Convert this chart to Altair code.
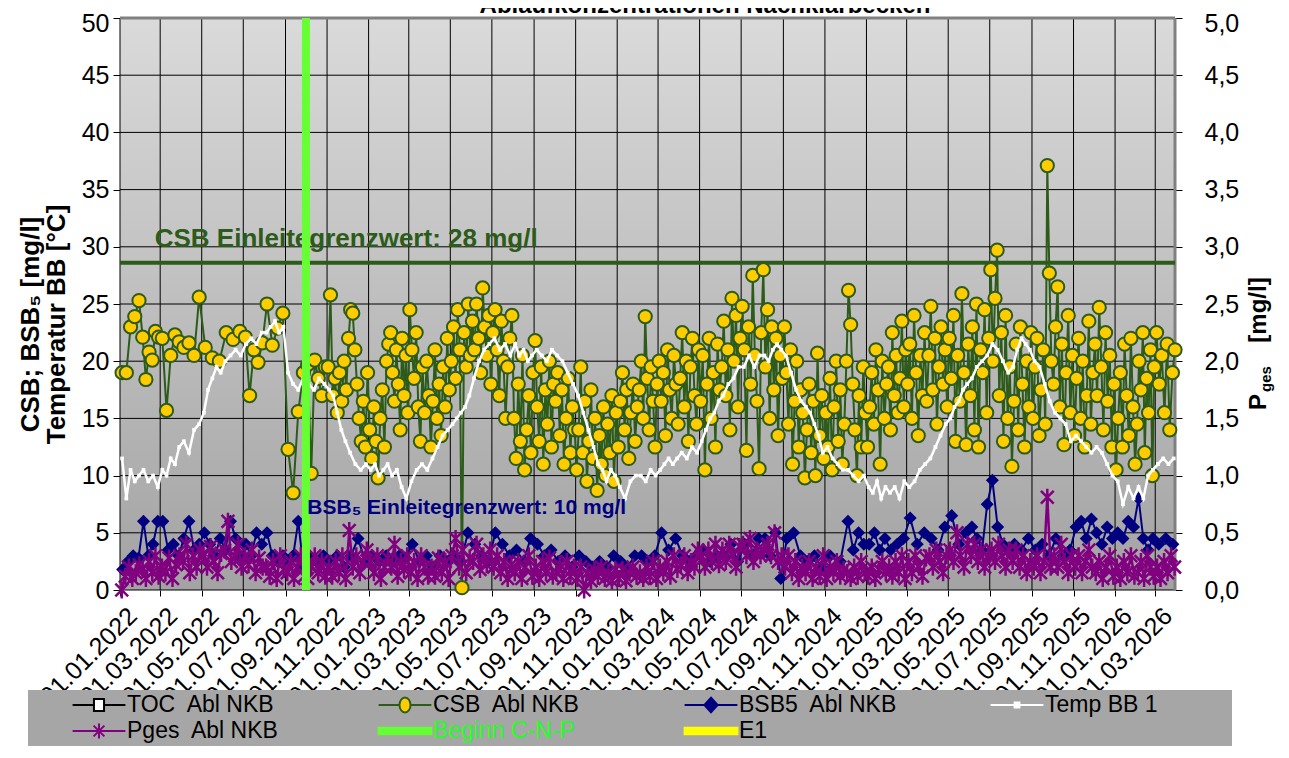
import altair as alt
import pandas as pd

W, H = 1055, 572
FONT = "Liberation Sans"

# ---------------- data ----------------
months = [f"{y}-{m:02d}" for y in range(2022, 2027) for m in range(1, 13)][:51]

tick_dates = ["2022-01-01", "2022-03-01", "2022-05-01", "2022-07-01", "2022-09-01", "2022-11-01",
              "2023-01-01", "2023-03-01", "2023-05-01", "2023-07-01", "2023-09-01", "2023-11-01",
              "2024-01-01", "2024-03-01", "2024-05-01", "2024-07-01", "2024-09-01", "2024-11-01",
              "2025-01-01", "2025-03-01", "2025-05-01", "2025-07-01", "2025-09-01", "2025-11-01",
              "2026-01-01", "2026-03-01"]
x_start = "2022-01-01"
x_end = "2026-03-30"
y_left_ticks = [0, 5, 10, 15, 20, 25, 30, 35, 40, 45, 50]
y_right_ticks = [0.0, 0.5, 1.0, 1.5, 2.0, 2.5, 3.0, 3.5, 4.0, 4.5, 5.0]

csb_by_month = [
    # 2022
    [19.0, 19.0, 23.0, 23.9, 25.3],
    [22.1, 18.4, 20.8, 20.1, 22.6, 22.1],
    [22.0, 15.7, 20.5, 22.3, 21.7],
    [21.2, 21.6, 20.5, 25.6],
    [21.2, 20.3, 20.0],
    [22.5, 21.9, 22.6],
    [22.1, 17.0, 21.0, 19.9, 21.6],
    [25.0, 21.4, 22.9, 24.2],
    [12.3, 8.5, 15.6, 19.0],
    [19.7, 10.2, 20.1, 18.5, 17.0, 19.5],
    [19.5, 25.8, 17.0, 18.5, 15.5, 19.0, 16.5, 20.0, 17.5],
    [22.0, 24.5, 24.2, 21.0, 18.0, 15.0, 13.0, 16.5, 12.5, 19.0],
    # 2023
    [14.0, 11.5, 16.0, 13.0, 9.8, 15.0, 17.5, 12.5, 20.0, 21.5],
    [22.5, 19.0, 16.5, 21.0, 18.0, 14.0, 22.0, 17.0, 20.5, 15.5],
    [24.5, 21.0, 18.5, 22.5, 16.0, 13.0, 19.5, 15.5, 20.0, 17.0],
    [12.5, 16.5, 21.0, 15.0, 18.0, 13.5, 19.5, 16.0, 22.0, 17.5],
    [20.0, 23.0, 18.5, 24.5, 21.0, 0.2, 22.5, 19.5, 25.0, 20.5],
    [23.5, 21.0, 25.0, 22.0, 19.0, 26.4, 23.0, 20.5, 24.0, 18.0],
    [22.5, 24.5, 21.0, 17.0, 23.5, 20.0, 15.0, 19.5, 22.0, 24.0],
    [15.0, 11.5, 18.0, 13.0, 20.5, 10.5, 14.0, 17.0, 12.0, 19.0],
    [21.8, 16.0, 13.0, 19.5, 11.0, 17.5, 14.5, 20.0, 12.5, 18.0],
    [16.5, 19.0, 13.5, 17.5, 11.0, 15.0, 18.5, 12.0, 16.0, 14.0],
    [10.5, 14.0, 19.5, 12.0, 16.5, 9.5, 13.0, 17.5, 11.5, 15.0],
    [8.7, 13.5, 11.0, 16.0, 10.0, 14.5, 12.0, 17.0, 9.5, 15.5],
    # 2024
    [12.5, 16.5, 19.0, 14.0, 17.5, 11.5, 15.5, 18.0, 13.0, 16.0],
    [17.5, 20.0, 15.0, 23.9, 18.5, 14.0, 19.5, 16.5, 12.5, 18.0],
    [20.0, 16.5, 19.0, 13.5, 21.0, 17.5, 15.0, 20.5, 18.0, 14.5],
    [18.5, 22.5, 16.0, 20.0, 13.0, 19.5, 22.0, 17.0, 14.5, 21.0],
    [16.5, 20.5, 10.5, 18.0, 22.0, 15.0, 19.0, 12.5, 21.5, 17.5],
    [19.5, 23.5, 17.0, 21.0, 14.0, 25.5, 20.0, 24.0, 16.0, 22.0],
    [24.8, 21.0, 12.2, 23.0, 18.0, 27.5, 20.5, 16.5, 10.6, 22.5],
    [28.0, 19.5, 24.5, 15.0, 23.0, 17.5, 22.0, 13.5, 20.5, 18.5],
    [23.0, 19.0, 14.5, 21.0, 11.0, 16.5, 20.0, 12.5, 17.5, 15.5],
    [9.8, 14.0, 18.0, 12.0, 16.5, 10.0, 20.7, 13.5, 17.0, 11.5],
    [15.5, 12.5, 18.5, 10.5, 16.0, 20.0, 13.0, 17.5, 11.0, 14.5],
    [20.0, 26.2, 23.2, 18.0, 14.0, 10.0, 17.0, 12.5, 19.5, 15.5],
    # 2025
    [12.5, 16.0, 19.0, 14.5, 21.0, 17.5, 11.0, 20.0, 15.0, 18.0],
    [19.5, 14.0, 22.5, 17.0, 20.5, 15.5, 18.5, 23.5, 16.0, 21.0],
    [18.0, 21.5, 15.0, 24.0, 19.0, 13.5, 20.5, 17.0, 22.5, 16.5],
    [20.5, 24.8, 17.5, 22.0, 14.5, 19.5, 23.0, 18.0, 21.0, 16.0],
    [22.0, 18.5, 24.0, 13.0, 20.5, 16.5, 25.9, 19.0, 12.7, 21.5],
    [17.0, 23.0, 14.0, 25.0, 12.5, 21.0, 19.0, 24.5, 15.5, 22.0],
    [28.0, 20.0, 25.5, 29.7, 17.0, 22.5, 13.0, 24.0, 15.0, 19.5],
    [10.8, 16.5, 21.5, 14.0, 23.0, 18.0, 12.5, 20.0, 16.0, 22.5],
    [15.0, 19.5, 22.0, 13.5, 17.5, 21.0, 14.5, 37.1, 27.7, 20.0],
    [18.0, 23.0, 26.5, 16.0, 21.5, 12.7, 19.0, 24.0, 15.5, 20.5],
    [13.5, 18.5, 22.0, 15.0, 20.0, 12.5, 17.0, 23.5, 14.5, 19.0],
    [21.5, 17.0, 24.7, 19.5, 14.0, 22.5, 16.5, 20.5, 12.5, 18.0],
    # 2026
    [10.5, 15.0, 19.0, 12.5, 21.5, 17.0, 13.5, 22.0, 16.0, 11.0],
    [14.5, 20.0, 17.5, 22.5, 12.0, 18.5, 15.5, 21.0, 10.0, 19.5],
    [22.5, 18.0, 20.5, 15.5, 21.5, 14.0, 19.0, 21.0],
]

bsb5_by_month = [
    # 2022
    [1.8, 2.5, 3.0, 2.8], [6.0, 3.0, 4.0, 6.0], [6.0, 3.5, 4.0, 3.0], [4.5, 6.0, 3.5, 4.0],
    [5.0, 4.0, 3.0, 4.5], [3.5, 6.0, 4.5, 2.8], [4.0, 3.0, 5.0, 4.0], [5.0, 3.0, 2.5, 3.0],
    [2.5, 3.0, 6.0, 2.0], [3.0, 2.5, 3.0], [2.5, 3.0, 2.0], [3.0, 4.5, 2.5],
    # 2023
    [3.0, 2.5, 3.0], [2.5, 3.0, 2.8], [4.0, 2.5, 3.0], [2.0, 3.0, 2.5],
    [3.0, 2.5, 5.0], [4.0, 3.0, 2.5], [5.0, 4.0, 3.0], [3.5, 2.5, 4.5],
    [4.0, 3.0, 3.5], [2.5, 3.0, 2.0], [3.0, 2.5, 2.0], [2.5, 2.0, 3.0],
    # 2024
    [2.5, 2.0, 3.0], [3.0, 2.5, 3.0], [5.0, 3.5, 4.5], [3.0, 2.5, 3.0],
    [3.5, 2.5, 3.0], [3.0, 4.0, 2.5], [4.0, 3.0, 4.5], [4.5, 3.0, 5.0, 1.0],
    [4.5, 5.0, 3.0], [2.5, 3.0, 2.0], [3.0, 2.5], [6.0, 3.5, 5.0, 4.0],
    # 2025
    [4.0, 5.0, 3.5, 4.5], [3.5, 4.0, 4.5], [6.3, 4.0, 5.0], [4.5, 3.5, 5.5],
    [6.5, 4.0, 5.0], [5.5, 4.5, 3.5, 7.5], [9.6, 5.5, 4.0, 3.5], [4.0, 3.5, 4.5],
    [3.5, 4.0, 3.0], [4.5, 3.0, 3.5], [5.5, 6.0, 4.5, 6.2], [5.0, 4.0, 5.5, 4.5],
    # 2026
    [5.0, 4.5, 6.0, 5.5], [8.0, 4.5, 3.5, 4.5], [4.0, 4.5, 4.0],
]

temp_by_month = [
    # 2022
    [11.5, 8.0, 10.5, 9.5, 10.0], [10.5, 9.5, 10.0, 9.0], [10.5, 10.0, 11.5, 11.0, 12.5],
    [13.0, 12.0, 14.0, 14.5], [15.5, 17.5, 18.5, 19.5, 19.0], [20.0, 20.5, 21.0, 20.5],
    [21.5, 22.0, 21.5, 22.5], [22.5, 23.0, 23.5, 22.5, 23.0], [19.0, 18.0, 17.5, 18.5],
    [18.0, 17.5, 18.5, 18.0], [17.5, 17.0, 15.5, 14.0, 13.0], [12.0, 11.0, 10.5, 11.0],
    # 2023
    [10.5, 11.0, 10.0, 10.5, 11.0], [10.0, 10.5, 9.0, 8.0], [9.5, 10.5, 11.0, 10.5],
    [11.5, 12.5, 13.5, 14.0], [14.5, 15.0, 15.5, 16.0, 17.0], [18.5, 20.0, 21.0, 21.5],
    [22.0, 21.0, 21.5, 20.5], [21.5, 20.5, 21.0, 20.0, 20.5], [21.0, 20.5, 20.0, 21.0],
    [20.5, 20.0, 19.0, 18.0], [17.0, 15.5, 14.0, 12.5], [11.0, 10.5, 9.5, 10.5, 10.0],
    # 2024
    [9.0, 8.0, 9.5, 10.0], [10.0, 9.5, 10.5, 10.0], [10.5, 11.0, 11.5, 11.0, 11.5],
    [12.0, 11.5, 12.5, 12.0], [13.0, 14.0, 15.0, 15.5, 16.5], [17.0, 18.0, 18.5, 19.5],
    [19.5, 20.5, 19.5, 20.5], [20.5, 20.0, 21.0, 21.5, 21.0], [20.5, 19.0, 17.5, 16.5],
    [16.0, 15.5, 14.5, 13.5, 12.0], [12.5, 11.5, 11.0, 10.5], [10.5, 10.0, 9.5, 10.0],
    # 2025
    [9.0, 8.5, 9.5, 8.0, 9.0], [8.5, 9.0, 8.0, 9.5], [9.0, 9.5, 10.5, 11.0],
    [11.5, 12.5, 13.5, 14.5], [15.0, 16.0, 16.5, 17.5, 18.0], [18.5, 19.5, 20.0, 20.5],
    [21.5, 21.0, 20.0, 19.0], [19.5, 21.0, 22.0, 21.5, 21.0], [20.0, 19.5, 18.0, 16.5],
    [15.5, 15.0, 14.5, 13.0], [13.5, 13.0, 12.5, 12.0], [12.5, 12.0, 11.0, 10.0],
    # 2026
    [9.5, 7.5, 9.0, 8.0], [9.0, 8.0, 10.0, 10.5], [11.0, 11.5, 11.0, 11.5],
]

pges_by_month = [
    # 2022
    [0.0, 0.12, 0.2, 0.1, 0.15, 0.22], [0.18, 0.1, 0.25, 0.15, 0.3, 0.12],
    [0.2, 0.15, 0.28, 0.1, 0.22, 0.3], [0.25, 0.4, 0.15, 0.3, 0.2, 0.35],
    [0.3, 0.2, 0.38, 0.25, 0.15, 0.32], [0.35, 0.6, 0.25, 0.3, 0.4, 0.2],
    [0.3, 0.22, 0.35, 0.15, 0.28, 0.2], [0.2, 0.12, 0.25, 0.1, 0.3, 0.18],
    [0.15, 0.25, 0.1, 0.2, 0.3, 0.12], [0.1, 0.2, 0.3, 0.15, 0.25, 0.12],
    [0.2, 0.12, 0.25, 0.15, 0.3, 0.1], [0.52, 0.2, 0.3, 0.15, 0.25, 0.35],
    # 2023
    [0.25, 0.15, 0.3, 0.1, 0.2, 0.28], [0.2, 0.4, 0.12, 0.25, 0.18, 0.3],
    [0.15, 0.25, 0.1, 0.3, 0.2, 0.12], [0.2, 0.12, 0.28, 0.15, 0.25, 0.1],
    [0.3, 0.45, 0.2, 0.35, 0.15, 0.28], [0.25, 0.4, 0.18, 0.3, 0.22, 0.35],
    [0.2, 0.3, 0.15, 0.25, 0.1, 0.22], [0.15, 0.25, 0.1, 0.2, 0.3, 0.12],
    [0.2, 0.1, 0.25, 0.15, 0.28, 0.12], [0.15, 0.22, 0.1, 0.25, 0.12, 0.2],
    [0.1, 0.2, 0.0, 0.15, 0.08, 0.18], [0.12, 0.2, 0.1, 0.15, 0.08, 0.18],
    # 2024
    [0.1, 0.18, 0.08, 0.15, 0.2, 0.12], [0.15, 0.1, 0.2, 0.12, 0.25, 0.1],
    [0.2, 0.15, 0.25, 0.12, 0.3, 0.18], [0.22, 0.3, 0.15, 0.25, 0.2, 0.35],
    [0.3, 0.2, 0.35, 0.25, 0.4, 0.22], [0.35, 0.25, 0.4, 0.3, 0.2, 0.38],
    [0.4, 0.3, 0.45, 0.25, 0.35, 0.3], [0.35, 0.4, 0.3, 0.5, 0.25, 0.3],
    [0.2, 0.3, 0.15, 0.25, 0.1, 0.2], [0.15, 0.25, 0.1, 0.2, 0.12, 0.3],
    [0.1, 0.2, 0.15, 0.25, 0.12, 0.18], [0.15, 0.1, 0.2, 0.12, 0.25, 0.15],
    # 2025
    [0.12, 0.2, 0.1, 0.18, 0.25, 0.15], [0.2, 0.12, 0.25, 0.15, 0.3, 0.1],
    [0.25, 0.15, 0.3, 0.2, 0.12, 0.28], [0.3, 0.2, 0.35, 0.25, 0.15, 0.3],
    [0.35, 0.25, 0.5, 0.3, 0.2, 0.4], [0.3, 0.4, 0.25, 0.35, 0.2, 0.3],
    [0.35, 0.25, 0.4, 0.3, 0.2, 0.35], [0.25, 0.35, 0.2, 0.3, 0.15, 0.25],
    [0.2, 0.3, 0.15, 0.25, 0.81, 0.2], [0.3, 0.2, 0.4, 0.25, 0.15, 0.3],
    [0.2, 0.3, 0.15, 0.25, 0.35, 0.2], [0.15, 0.25, 0.1, 0.2, 0.3, 0.12],
    # 2026
    [0.2, 0.1, 0.25, 0.15, 0.3, 0.12], [0.15, 0.25, 0.1, 0.3, 0.2, 0.12],
    [0.2, 0.1, 0.25, 0.15, 0.3, 0.2],
]

csb_limit = [28.6]
beginn_cnp = ["2022-10-01"]
csb_note = ["CSB Einleitegrenzwert: 28 mg/l"]
csb_note_date = ["2022-02-21"]
csb_note_value = [30.0]
bsb_note = ["BSB\u2085 Einleitegrenzwert: 10 mg/l"]
bsb_note_date = ["2022-10-03"]
bsb_note_value = [6.6]
chart_title = ["Ablaufkonzentrationen Nachklärbecken"]

NB = "\u00a0 "
series_names = ["TOC" + NB + "Abl NKB", "CSB" + NB + "Abl NKB", "BSB5" + NB + "Abl NKB", "Temp BB 1",
                "Pges" + NB + "Abl NKB", "Beginn C-N-P", "E1"]

for lst in (csb_by_month, bsb5_by_month, temp_by_month, pges_by_month):
    assert len(lst) == len(months), len(lst)

# ---------------- styles ----------------
CSB_GREEN = "#2D5B1A"
CSB_FILL = "#FFCC00"
NAVY = "#000080"
PURPLE = "#800080"
LIME = "#66FF33"
YELLOW = "#FFFF00"
ASTERISK = "M-0.75,-0.75L0.75,0.75M-0.75,0.75L0.75,-0.75M0,-1L0,1"

legend_fills = ["#FFFFFF", CSB_FILL, NAVY, "#FFFFFF", PURPLE, LIME, YELLOW]
legend_strokes = ["#000000", CSB_GREEN, NAVY, "#FFFFFF", PURPLE, LIME, YELLOW]
legend_shapes = [
    "M-2.2,0H-0.42M0.42,0H2.2M-0.42,-0.5H0.42V0.5H-0.42Z",
    "M-2.2,0H-0.46M0.46,0H2.2M-0.46,0A0.46,0.62 0 1,0 0.46,0A0.46,0.62 0 1,0 -0.46,0Z",
    "M-2.2,0H2.2M0,-0.6L0.55,0L0,0.6L-0.55,0Z",
    "M-2.2,0H2.2M-0.2,-0.2H0.2V0.2H-0.2Z",
    "M-2.2,0H2.2M-0.45,-0.45L0.45,0.45M-0.45,0.45L0.45,-0.45M0,-0.62V0.62",
    "M-2.2,-0.28H2.2V0.28H-2.2Z",
    "M-2.2,-0.28H2.2V0.28H-2.2Z",
]


def spread(values_by_month):
    dates, vals = [], []
    for m, vals_m in zip(months, values_by_month):
        p = pd.Period(m, freq="M")
        n = len(vals_m)
        for i, v in enumerate(vals_m):
            d = p.start_time + pd.Timedelta(hours=24 * p.days_in_month * (i + 0.5) / n)
            dates.append(d.strftime("%Y-%m-%dT%H:%M:%S"))
            vals.append(v)
    return pd.DataFrame({"date": dates, "v": vals})


def ts(s):
    return s + "T00:00:00"


def dt(s):
    y, m, d = map(int, s.split("-"))
    return alt.DateTime(year=y, month=m, date=d)


csb_df = spread(csb_by_month)
bsb_df = spread(bsb5_by_month)
temp_df = spread(temp_by_month)
pges_df = spread(pges_by_month)

x_scale = alt.Scale(domain=[dt(x_start), dt(x_end)])
yl = alt.Scale(domain=[0, 50], nice=False, zero=False)
yr = alt.Scale(domain=[0, 5], nice=False, zero=False)
yt = alt.Scale(domain=[0, 50], nice=False, zero=False)

x_axis = alt.Axis(values=[dt(d) for d in tick_dates], format="%d.%m.%Y", formatType="time",
                  labelAngle=-45, labelAlign="right", labelBaseline="top", labelFont=FONT,
                  labelFontSize=25, labelColor="black", labelOverlap=False, labelFlush=False,
                  labelPadding=7, labelOffset=4, tickColor="black", tickSize=6, tickWidth=1,
                  domain=False, grid=False, title=None)
yl_axis = alt.Axis(values=y_left_ticks, labelFont=FONT, labelFontSize=25, labelColor="black",
                   labelPadding=4, tickColor="black", tickSize=7, tickWidth=1, domain=False,
                   labelOffset={"condition": {"test": "datum.value == 50", "value": 5}, "value": 0},
                   grid=False, title=["CSB; BSB\u2085  [mg/l]", "Temperatur BB [°C]"],
                   titleFont=FONT, titleFontSize=26, titleFontWeight="bold", titleColor="black",
                   titlePadding=12, titleLineHeight=26, titleY=306)
yr_axis = alt.Axis(orient="right", values=y_right_ticks,
                   labelExpr="replace(format(datum.value, '.1f'), '.', ',')",
                   labelOffset={"condition": {"test": "datum.value == 5", "value": 5}, "value": 0},
                   labelFont=FONT, labelFontSize=25, labelColor="black", labelPadding=22,
                   tickColor="black", tickSize=7, tickWidth=1, domain=False, grid=False, title=None)


def X(axis=alt.Undefined):
    return alt.X("date:T", scale=x_scale, axis=axis)


def YL(axis=alt.Undefined):
    return alt.Y("v:Q", scale=yl, axis=axis)


# ---------------- left group ----------------
bg = alt.Chart(pd.DataFrame({"k": [0]})).mark_rect(
    color={"gradient": "linear", "x1": 0, "x2": 0, "y1": 0, "y2": 1,
           "stops": [{"offset": 0, "color": "#DADADA"}, {"offset": 1, "color": "#A3A3A3"}]}
).encode(x=alt.value(0), x2=alt.value(W), y=alt.value(0), y2=alt.value(H))

hgrid = alt.Chart(pd.DataFrame({"v": y_left_ticks[:-1]})).mark_rule(
    color="#000000", strokeWidth=1).encode(y=YL(yl_axis))
vgrid = alt.Chart(pd.DataFrame({"date": [ts(d) for d in tick_dates]})).mark_rule(
    color="#000000", strokeWidth=1).encode(x=X(x_axis))
top_border = alt.Chart(pd.DataFrame({"v": y_left_ticks[-1:]})).mark_rule(
    color="#808080", strokeWidth=3).encode(y=YL())
right_border = alt.Chart(pd.DataFrame({"date": [ts(x_end)]})).mark_rule(
    color="#808080", strokeWidth=3).encode(x=X())

csb_rule = alt.Chart(pd.DataFrame({"v": csb_limit})).mark_rule(
    color=CSB_GREEN, strokeWidth=4).encode(y=YL())
csb_line = alt.Chart(csb_df).mark_line(color=CSB_GREEN, strokeWidth=2).encode(x=X(), y=YL())
csb_pts = alt.Chart(csb_df).mark_circle(fill=CSB_FILL, stroke=CSB_GREEN, strokeWidth=2,
                                        size=175, opacity=1).encode(x=X(), y=YL())
bsb_line = alt.Chart(bsb_df).mark_line(color=NAVY, strokeWidth=2).encode(x=X(), y=YL())
bsb_pts = alt.Chart(bsb_df).mark_point(shape="diamond", filled=True, color=NAVY, size=170,
                                       opacity=1).encode(x=X(), y=YL())
temp_line = alt.Chart(temp_df).mark_line(color="white", strokeWidth=2.5).encode(x=X(), y=YL())
temp_pts = alt.Chart(temp_df).mark_square(color="white", size=14, opacity=1).encode(x=X(), y=YL())

csb_text = alt.Chart(pd.DataFrame({"date": [ts(d) for d in csb_note_date], "v": csb_note_value,
                                   "t": csb_note})).mark_text(
    align="left", baseline="alphabetic", font=FONT, fontSize=26, fontWeight="bold",
    color=CSB_GREEN).encode(x=X(), y=YL(), text="t:N")

legend_box = alt.Chart(pd.DataFrame({"k": [0]})).mark_rect(color="#A6A6A6").encode(
    x=alt.value(-92), x2=alt.value(1112), y=alt.value(672), y2=alt.value(730))

legend_def = alt.Legend(title=None, orient="none", legendX=-60, legendY=674, columns=4,
                        direction="horizontal", gridAlign="all", padding=0, rowPadding=1,
                        columnPadding=80, symbolSize=576, symbolStrokeWidth=2, symbolOffset=26,
                        labelOffset=15, labelFont=FONT, labelFontSize=23, labelLimit=400,
                        labelColor={"expr": "datum.label == 'Beginn C-N-P' ? '#22FF22' : 'black'"})
leg = alt.Chart(pd.DataFrame({"series": series_names, "date": [ts(x_start)] * len(series_names),
                              "v": [-1] * len(series_names)})).transform_filter(
    "datum.v > 0").mark_point(filled=True, opacity=1).encode(
    x=X(), y=YL(),
    fill=alt.Fill("series:N", scale=alt.Scale(domain=series_names, range=legend_fills), legend=legend_def),
    stroke=alt.Stroke("series:N", scale=alt.Scale(domain=series_names, range=legend_strokes), legend=legend_def),
    shape=alt.Shape("series:N", scale=alt.Scale(domain=series_names, range=legend_shapes), legend=legend_def),
)

title_txt = alt.Chart(pd.DataFrame({"t": chart_title})).mark_text(
    font=FONT, fontSize=24, fontWeight="bold", color="black", align="center",
    baseline="alphabetic").encode(text="t:N", x=alt.value(585), y=alt.value(-5))

left = alt.layer(bg, hgrid, vgrid, top_border, right_border, csb_rule, csb_line, csb_pts,
                 bsb_line, bsb_pts, temp_line, temp_pts, csb_text, legend_box, leg, title_txt)

# ---------------- right group (Pges) ----------------
pges_line = alt.Chart(pges_df).mark_line(color=PURPLE, strokeWidth=2.5).encode(
    x=X(), y=alt.Y("v:Q", scale=yr, axis=yr_axis))
pges_pts = alt.Chart(pges_df).mark_point(shape=ASTERISK, filled=False, color=PURPLE,
                                         strokeWidth=2.5, size=290, opacity=1).encode(
    x=X(), y=alt.Y("v:Q", scale=yr))


def vtext(t, size, xpos, ypos):
    return alt.Chart(pd.DataFrame({"t": [t]})).mark_text(
        font=FONT, fontSize=size, fontWeight="bold", color="black", angle=270,
        align="center", baseline="middle").encode(text="t:N", x=alt.value(xpos), y=alt.value(ypos))


right = alt.layer(pges_line, pges_pts,
                  vtext("P", 24, W + 84, 384), vtext("ges", 15, W + 91, 361),
                  vtext("[mg/l]", 24, W + 84, 292))

# ---------------- top group ----------------
green_rule = alt.Chart(pd.DataFrame({"date": [ts(d) for d in beginn_cnp]})).mark_rule(
    color=LIME, strokeWidth=8).encode(x=X())
bsb_text = alt.Chart(pd.DataFrame({"date": [ts(d) for d in bsb_note_date], "v": bsb_note_value,
                                   "t": bsb_note})).mark_text(
    align="left", baseline="alphabetic", font=FONT, fontSize=21, fontWeight="bold",
    color=NAVY).encode(x=X(), y=alt.Y("v:Q", scale=yt, axis=None), text="t:N")
top = alt.layer(green_rule, bsb_text)

chart = alt.layer(left, right, top).resolve_scale(y="independent").properties(
    width=W, height=H, autosize=alt.AutoSizeParams(type="none"),
    padding={"left": 112, "top": 10, "right": 106, "bottom": 156},
).configure_view(stroke=None)

chart.save("out.html", embed_options={"renderer": "svg", "actions": False})
